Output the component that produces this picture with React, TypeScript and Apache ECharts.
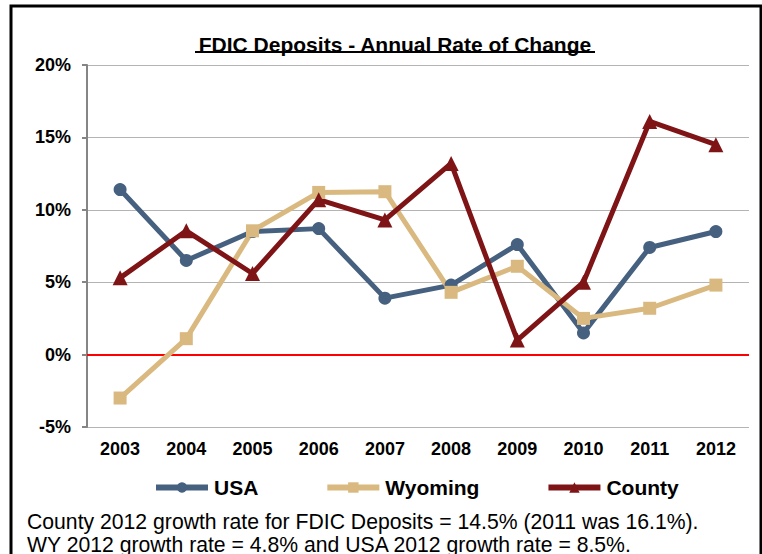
import React, { useEffect, useRef } from "react";
import * as echarts from "echarts";

const years = ["2003", "2004", "2005", "2006", "2007", "2008", "2009", "2010", "2011", "2012"];
const usa = [11.4, 6.5, 8.5, 8.7, 3.9, 4.8, 7.6, 1.5, 7.4, 8.5];
const wyoming = [-3.0, 1.1, 8.55, 11.2, 11.25, 4.3, 6.1, 2.5, 3.2, 4.8];
const county = [5.3, 8.55, 5.6, 10.7, 9.3, 13.2, 1.0, 5.0, 16.1, 14.5];
const titleText = "FDIC Deposits - Annual Rate of Change";
const note1 = "County 2012 growth rate for FDIC Deposits = 14.5% (2011 was 16.1%).";
const note2 = "WY 2012 growth rate = 4.8% and USA 2012 growth rate = 8.5%.";

const FONT = "'Liberation Sans', Arial, sans-serif";

export default function App() {
  const ref = useRef<HTMLDivElement>(null);
  useEffect(() => {
    if (!ref.current) return;
    const chart = echarts.init(ref.current, undefined, { renderer: "svg" });
    const mk = (name: string, data: number[], color: string, symbol: string, size: number, extra: any = {}) => ({
      name,
      type: "line",
      data,
      symbol,
      symbolSize: size,
      lineStyle: { color, width: 5 },
      itemStyle: { color },
      z: 3,
      ...extra,
    });
    chart.setOption({
      animation: false,
      textStyle: { fontFamily: FONT },
      title: {
        text: titleText,
        left: 390,
        textAlign: "center",
        top: 29,
        textStyle: { fontFamily: FONT, fontSize: 21, fontWeight: "bold", color: "#000" },
      },
      grid: { left: 87, right: 13, top: 65, bottom: 127, containLabel: false },
      legend: {
        left: 148,
        top: 472,
        itemGap: 66,
        itemWidth: 52,
        itemHeight: 13,
        lineStyle: { width: 6 },
        textStyle: { fontFamily: FONT, fontSize: 21, fontWeight: "bold", color: "#000", padding: [0, 0, 0, 1] },
        data: ["USA", "Wyoming", "County"],
      },
      xAxis: {
        type: "category",
        data: years,
        boundaryGap: true,
        axisLine: { show: false },
        axisTick: { show: false },
        axisLabel: { fontFamily: FONT, fontSize: 18, fontWeight: "bold", color: "#000", margin: 13 },
      },
      yAxis: {
        type: "value",
        min: -5,
        max: 20,
        interval: 5,
        axisLine: { show: true, lineStyle: { color: "#858585", width: 2 } },
        axisTick: { show: true, length: 5, lineStyle: { color: "#858585", width: 2 } },
        axisLabel: { formatter: "{value}%", fontFamily: FONT, fontSize: 18, fontWeight: "bold", color: "#000", margin: 16 },
        splitLine: { lineStyle: { color: "#b4b4b4", width: 1 } },
      },
      series: [
        mk("USA", usa, "#46607f", "circle", 13, {
          markLine: {
            silent: true,
            symbol: ["none", "none"],
            label: { show: false },
            lineStyle: { color: "#ff0000", width: 2, type: "solid" },
            data: [{ yAxis: 0 }],
            z: 1,
          },
        }),
        mk("Wyoming", wyoming, "#d9b97f", "rect", 13),
        mk("County", county, "#7f1416", "triangle", 15),
      ],
      graphic: [
        { type: "rect", shape: { x: 11, y: 6, width: 750, height: 570 }, style: { fill: "none", stroke: "#000", lineWidth: 3 }, z: 0 },
        { type: "line", shape: { x1: 195, y1: 52, x2: 595, y2: 52 }, style: { stroke: "#000", lineWidth: 2 } },
        { type: "text", x: 27, y: 521, style: { text: note1, font: `21.2px ${FONT}`, fill: "#000", textVerticalAlign: "middle" } },
        { type: "text", x: 27, y: 544, style: { text: note2, font: `21.2px ${FONT}`, fill: "#000", textVerticalAlign: "middle" } },
      ],
    });
    return () => chart.dispose();
  }, []);
  return <div ref={ref} style={{ position: "absolute", left: 0, top: 0, width: 762, height: 554 }} />;
}
